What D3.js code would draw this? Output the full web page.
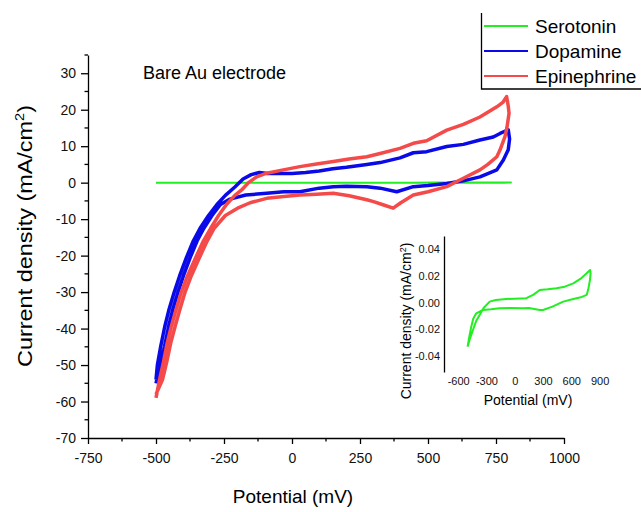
<!DOCTYPE html>
<html>
<head>
<meta charset="utf-8">
<script src="https://cdn.jsdelivr.net/npm/d3@7"></script>
<style>
  body { margin: 0; background: #fff; }
  svg { font-family: "Liberation Sans", Arial, sans-serif; }
  .axis path, .axis line { stroke: #000; stroke-width: 1.3; }
  .axis text { fill: #111; }
</style>
</head>
<body>
<svg id="chart" width="641" height="512"></svg>
<script>
// tick labels
var xTicks = [-750, -500, -250, 0, 250, 500, 750, 1000];
var yTicks = [30, 20, 10, 0, -10, -20, -30, -40, -50, -60, -70];
var insetXTicks = [-600, -300, 0, 300, 600, 900];
var insetYTicks = [0.04, 0.02, 0, -0.02, -0.04];

var seriesNames = ["Serotonin", "Dopamine", "Epinephrine"];
var seriesColors = ["#22ee22", "#0a0ae8", "#f44a4a"];

// serotonin (mA/cm2) - flat on the main plot, shown in the inset
var serotoninPotential = [-500, -470, -443, -410, -372, -330, -266, -200, -89, 0, 124, 200, 266, 350, 443, 530, 621, 700, 763, 800,
  805, 798, 780, 763, 700, 621, 514, 400, 300, 266, 150, 89, -50, -160, -250, -337, -408, -440, -461, -480, -500];
var serotoninCurrent = [-0.033, -0.026, -0.0205, -0.014, -0.0092, -0.004, 0.0008, 0.002, 0.0028, 0.003, 0.0034, 0.006, 0.0095, 0.010, 0.0108, 0.012, 0.0145, 0.018, 0.022, 0.0245,
  0.022, 0.017, 0.010, 0.0058, 0.004, 0.0028, 0.0008, -0.003, -0.0055, -0.0055, -0.004, -0.0042, -0.004, -0.0042, -0.005, -0.0055, -0.008, -0.012, -0.018, -0.025, -0.033];

var dopaminePotential = [-500, -495, -483, -468, -453, -433, -413, -388, -363, -338, -307, -276, -245, -210, -180, -150, -120, -90, -50, 0, 50, 100, 150, 200, 275, 324, 397, 446, 495, 569, 630, 691, 740, 765, 795, 800,
  795, 777, 753, 720, 691, 630, 569, 500, 446, 385, 324, 275, 200, 152, 100, 29, -30, -93, -170, -228, -263, -294, -324, -349, -374, -399, -419, -439, -454, -469, -485, -500];
var dopamineCurrent = [-54, -50, -45, -39.5, -35, -30, -25.5, -20.5, -16, -12.5, -9, -6, -3.5, -1.2, 1, 2.2, 2.8, 2.5, 2.5, 2.5, 2.8, 3.2, 3.8, 4.2, 5, 5.5, 6.8, 8.2, 8.5, 9.9, 10.5, 11.7, 12.5, 13.5, 14.5, 12,
  9, 6.2, 3.5, 2.5, 1.6, 0.5, -0.2, -0.8, -1.1, -2.5, -1.5, -1.1, -1, -1.1, -1.5, -2.5, -2.5, -2.9, -3.4, -4.5, -6, -9, -12.5, -16, -20.5, -25.5, -30, -35, -39.5, -45, -50, -55];

var epinephrinePotential = [-500, -487, -472, -459, -444, -427, -407, -384, -354, -326, -299, -270, -241, -210, -185, -160, -130, -93, -32, 29, 90, 152, 210, 275, 324, 397, 446, 495, 569, 630, 691, 753, 775, 789, 795,
  798, 790, 783, 765, 753, 720, 691, 630, 569, 500, 446, 400, 372, 340, 300, 275, 210, 152, 90, 29, -30, -93, -154, -200, -245, -286, -312, -340, -370, -393, -413, -430, -446, -460, -476, -500];
var epinephrineCurrent = [-59, -54, -49, -44, -39.5, -35, -30, -25.5, -20.5, -16, -12.5, -9, -6, -3.5, -2, 0, 1.6, 2.6, 3.5, 4.4, 5.1, 5.8, 6.5, 7.1, 8, 9.4, 10.8, 11.5, 14.4, 16, 18, 20.8, 22, 23.6, 21,
  19, 15, 12.6, 9, 7.1, 5, 3.5, 1.2, -1.1, -2.5, -3.4, -5.5, -7, -6.2, -5.2, -4.7, -3.6, -2.9, -3.2, -3.4, -3.8, -4.3, -5.5, -7, -9, -12.5, -16, -20.5, -25.5, -30, -35, -39.5, -44, -49, -54, -58];

var svg = d3.select("#chart");

// main plot
var x = d3.scaleLinear().domain([-750, 1000]).range([88, 564]);
var y = d3.scaleLinear().domain([-70, 35]).range([438, 55]);

svg.append("g")
    .attr("class", "axis")
    .attr("transform", "translate(0,438)")
    .style("font-size", "14px")
    .call(d3.axisBottom(x).tickValues(xTicks).tickSize(6).tickSizeOuter(0).tickPadding(9).tickFormat(function (d) { return String(d); }));

svg.append("g")
    .attr("class", "axis")
    .attr("transform", "translate(88,0)")
    .style("font-size", "14px")
    .call(d3.axisLeft(y).tickValues(yTicks).tickSize(7).tickSizeOuter(0).tickPadding(5).tickFormat(function (d) { return String(d); }));

// minor ticks
var xMinor = xTicks.slice(0, -1).map(function (v) { return v + 125; });
var yMinor = yTicks.slice(1).map(function (v) { return v + 5; }).concat([35]);
svg.append("g").selectAll("line").data(xMinor).enter().append("line")
    .attr("x1", function (d) { return x(d); }).attr("x2", function (d) { return x(d); })
    .attr("y1", 438).attr("y2", 441.5)
    .attr("stroke", "#000").attr("stroke-width", 1.3);
svg.append("g").selectAll("line").data(yMinor).enter().append("line")
    .attr("y1", function (d) { return y(d); }).attr("y2", function (d) { return y(d); })
    .attr("x1", 88).attr("x2", 84.5)
    .attr("stroke", "#000").attr("stroke-width", 1.3);

svg.append("text")
    .attr("transform", "translate(32,236) rotate(-90)")
    .attr("text-anchor", "middle")
    .attr("textLength", 262)
    .attr("lengthAdjust", "spacingAndGlyphs")
    .style("font-size", "21px")
    .html("Current density (mA/cm<tspan dy='-8' font-size='13px'>2</tspan><tspan dy='8'>)</tspan>");

svg.append("text")
    .attr("x", 293).attr("y", 503)
    .attr("text-anchor", "middle")
    .style("font-size", "19px")
    .text("Potential (mV)");

svg.append("text")
    .attr("x", 143).attr("y", 79)
    .style("font-size", "18px")
    .text("Bare Au electrode");

var line = d3.line()
    .x(function (d) { return x(d[0]); })
    .y(function (d) { return y(d[1]); });

var mainSeries = [
    d3.zip(serotoninPotential, serotoninCurrent),
    d3.zip(dopaminePotential, dopamineCurrent),
    d3.zip(epinephrinePotential, epinephrineCurrent)
];
mainSeries.forEach(function (s, i) {
    svg.append("path")
        .datum(s)
        .attr("d", line)
        .attr("fill", "none")
        .attr("stroke", seriesColors[i])
        .attr("stroke-width", i == 0 ? 2 : 3.5)
        .attr("stroke-linejoin", "round");
});

// legend
svg.append("path")
    .attr("d", "M481.5,13V89H645")
    .attr("fill", "none")
    .attr("stroke", "#000")
    .attr("stroke-width", 1.3);
seriesNames.forEach(function (name, i) {
    var ly = 26 + i * 25;
    svg.append("line")
        .attr("x1", 484).attr("x2", 528)
        .attr("y1", ly).attr("y2", ly)
        .attr("stroke", seriesColors[i])
        .attr("stroke-width", 2);
    svg.append("text")
        .attr("x", 535).attr("y", ly + 7)
        .style("font-size", "19px")
        .text(name);
});

// inset
var ix = d3.scaleLinear().domain([-750, 1000]).range([444, 609]);
var iy = d3.scaleLinear().domain([-0.052, 0.05]).range([372, 236]);

svg.append("g")
    .attr("class", "axis")
    .attr("transform", "translate(444,0)")
    .style("font-size", "11px")
    .call(d3.axisLeft(iy).tickValues(insetYTicks).tickSize(0).tickSizeOuter(0).tickPadding(4).tickFormat(function (d) { return d.toFixed(2); }));

var ixAxis = svg.append("g")
    .attr("class", "axis")
    .attr("transform", "translate(0,372)")
    .style("font-size", "11px")
    .call(d3.axisBottom(ix).tickValues(insetXTicks).tickSize(0).tickPadding(5).tickFormat(function (d) { return String(d); }));
ixAxis.select(".domain").remove();

svg.append("text")
    .attr("transform", "translate(411,321) rotate(-90)")
    .attr("text-anchor", "middle")
    .style("font-size", "14px")
    .html("Current density (mA/cm<tspan dy='-5' font-size='9px'>2</tspan><tspan dy='5'>)</tspan>");

svg.append("text")
    .attr("x", 528).attr("y", 405)
    .attr("text-anchor", "middle")
    .style("font-size", "14px")
    .text("Potential (mV)");

var insetLine = d3.line()
    .x(function (d) { return ix(d[0]); })
    .y(function (d) { return iy(d[1]); });

svg.append("path")
    .datum(d3.zip(serotoninPotential, serotoninCurrent))
    .attr("d", insetLine)
    .attr("fill", "none")
    .attr("stroke", seriesColors[0])
    .attr("stroke-width", 2)
    .attr("stroke-linejoin", "round");
</script>
</body>
</html>
